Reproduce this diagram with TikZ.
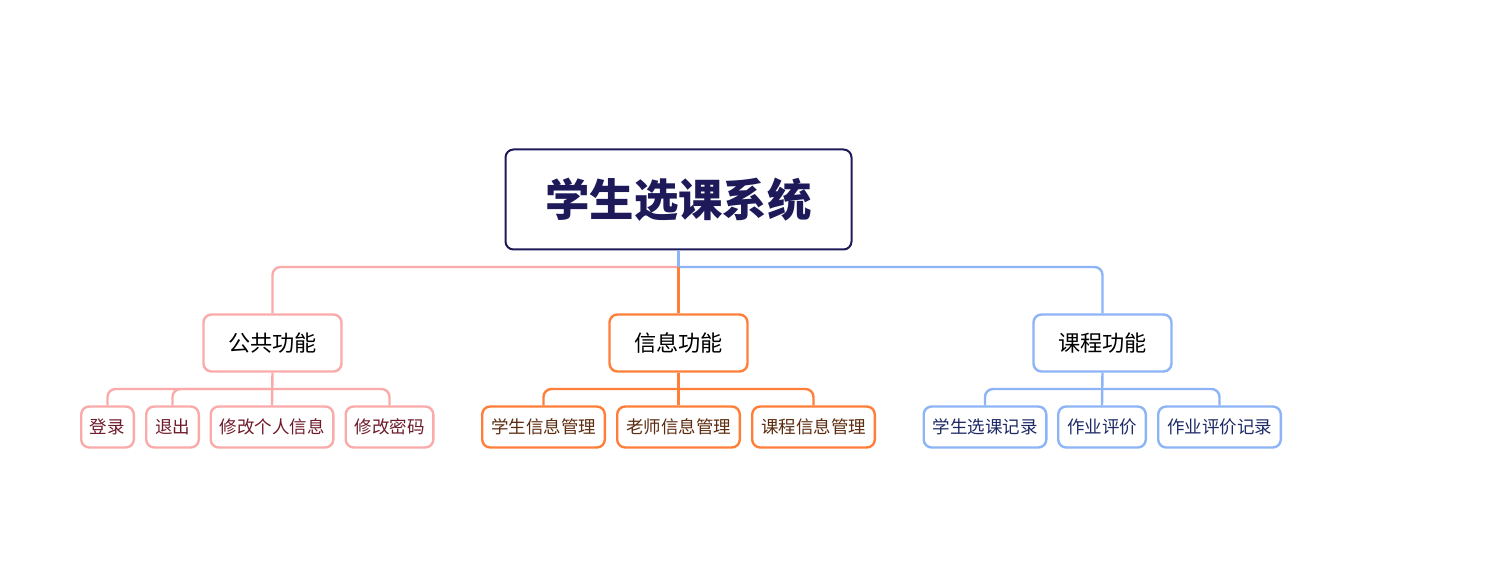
\documentclass[tikz,border=0pt]{standalone}
\usepackage{fontspec}
\setmainfont{Noto Sans CJK SC}
\usepackage{xcolor}
\usepackage{tikz}
\usetikzlibrary{positioning}

\definecolor{navyc}{HTML}{1E1A5A}
\definecolor{pinkc}{HTML}{FBAAAA}
\definecolor{orangec}{HTML}{FF7F3A}
\definecolor{bluec}{HTML}{8CB4F6}
\definecolor{pinktxt}{HTML}{6E1A2A}
\definecolor{orangetxt}{HTML}{5C2C10}
\definecolor{bluetxt}{HTML}{1E2A66}

\begin{document}
\begin{tikzpicture}[x=0.5pt,y=-0.5pt,
  root/.style={draw=navyc,line width=1pt,rounded corners=4pt,minimum width=173pt,minimum height=50pt,
    text=navyc,font=\bfseries\fontsize{22.2}{24}\selectfont},
  cat/.style={draw=#1,fill=white,line width=1.2pt,rounded corners=4pt,minimum width=69pt,minimum height=28.5pt,
    font=\fontsize{11.1}{13}\selectfont},
  leaf/.style 2 args={draw=#1,text=#2,fill=white,line width=1.2pt,rounded corners=4pt,minimum height=20.5pt,
    inner xsep=4.4pt,font=\fontsize{8.75}{10}\selectfont},
  conn/.style={draw=#1,line width=1.2pt},
  bend/.style={conn=#1,rounded corners=4pt}]
\useasboundingbox (0,0) rectangle (1485,581);
% top level
\node[root] (root) at (678.5,199.5) {学生选课系统};
\node[cat=pinkc]   (pub)    at (272.5,343) {公共功能};
\node[cat=orangec] (info)   at (678.5,343) {信息功能};
\node[cat=bluec]   (course) at (1102.5,343) {课程功能};
% leaves
\node[leaf={pinkc}{pinktxt}] (login)  at (107.5,427) {登录};
\node[leaf={pinkc}{pinktxt}] (logout) at (172.5,427) {退出};
\node[leaf={pinkc}{pinktxt}] (modinfo) at (272,427) {修改个人信息};
\node[leaf={pinkc}{pinktxt}] (modpwd) at (389.5,427) {修改密码};
\node[leaf={orangec}{orangetxt}] (stuinfo) at (543.5,427) {学生信息管理};
\node[leaf={orangec}{orangetxt}] (tchinfo) at (678.5,427) {老师信息管理};
\node[leaf={orangec}{orangetxt}] (crsinfo) at (813.5,427) {课程信息管理};
\node[leaf={bluec}{bluetxt}] (selrec)  at (985,427) {学生选课记录};
\node[leaf={bluec}{bluetxt}] (hwrate)  at (1102,427) {作业评价};
\node[leaf={bluec}{bluetxt}] (hwrec)   at (1219.5,427) {作业评价记录};
% bus points
\coordinate (rootbus) at (678.5,267);
\coordinate (pubbus)  at (272.5,389);
\coordinate (infobus) at (678.5,389);
\coordinate (crsbus)  at (1102.5,389);
% root to categories
\draw[bend=pinkc] (rootbus) -| (pub.north);
\draw[bend=bluec] (rootbus) -| (course.north);
\draw[conn=bluec] (root.south) -- (rootbus);
\draw[conn=orangec] (rootbus) -- (info.north);
% categories to leaves
\draw[conn=pinkc] (pub.south) -- (modinfo.north);
\draw[bend=pinkc] (pubbus) -| (login.north);
\draw[bend=pinkc] (pubbus) -| (logout.north);
\draw[bend=pinkc] (pubbus) -| (modpwd.north);
\draw[conn=orangec] (info.south) -- (tchinfo.north);
\draw[bend=orangec] (infobus) -| (stuinfo.north);
\draw[bend=orangec] (infobus) -| (crsinfo.north);
\draw[conn=bluec] (course.south) -- (hwrate.north);
\draw[bend=bluec] (crsbus) -| (selrec.north);
\draw[bend=bluec] (crsbus) -| (hwrec.north);
\end{tikzpicture}
\end{document}
